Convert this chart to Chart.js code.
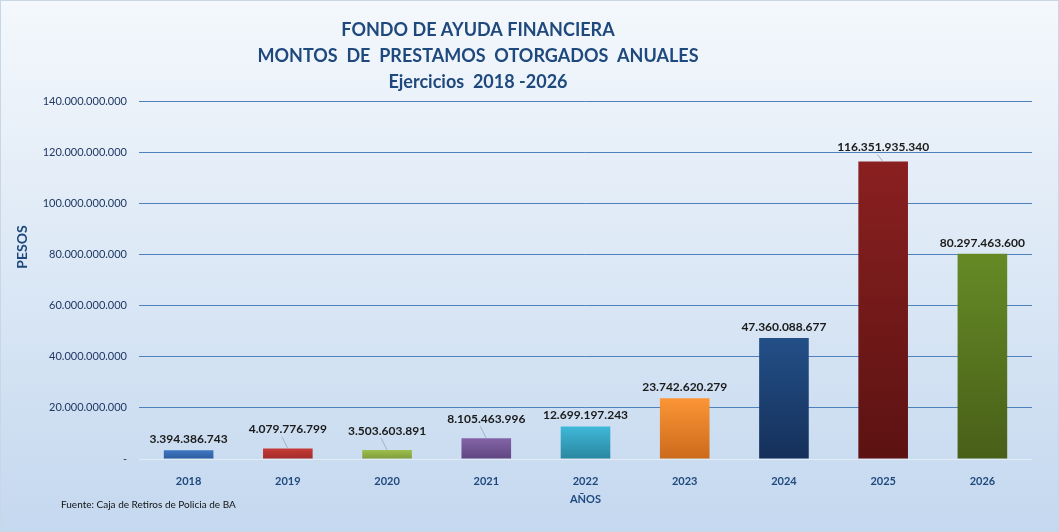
<!DOCTYPE html>
<html>
<head>
<meta charset="utf-8">
<script src="https://cdn.jsdelivr.net/npm/chart.js@4.4.1/dist/chart.umd.min.js"></script>
<style>
  html, body { margin: 0; padding: 0; background: #fff; }
  #wrap { width: 1059px; height: 532px; }
</style>
</head>
<body>
<div id="wrap"><canvas id="chart"></canvas></div>
<script>
// datos del grafico
const years = ['2018', '2019', '2020', '2021', '2022', '2023', '2024', '2025', '2026'];
const montos = [3394386743, 4079776799, 3503603891, 8105463996, 12699197243, 23742620279, 47360088677, 116351935340, 80297463600];
const titleLines = ['FONDO DE AYUDA FINANCIERA', 'MONTOS  DE  PRESTAMOS  OTORGADOS  ANUALES', 'Ejercicios  2018 -2026'];
const fuente = 'Fuente: Caja de Retiros de Policia de BA';

// colores de las barras (arriba / abajo del degradado)
const topColors = ['#3d76c2', '#c63b37', '#9dbf4c', '#8464a8', '#3fb8d9', '#fb9535', '#234f87', '#8a2020', '#668a26'];
const bottomColors = ['#2d5c9c', '#a22c2a', '#7f9c3a', '#5f4680', '#2a879f', '#cc6a1c', '#15305a', '#5c1212', '#485f18'];
// cuanto se elevan algunas etiquetas (con linea guia)
const labelRaise = [0, 8, 8, 8, 0, 0, 0, 3, 0];

const fmt = n => String(n).replace(/\B(?=(\d{3})+(?!\d))/g, '.');
const FONT = 'Lato, "Open Sans", sans-serif';

const bgPlugin = {
  id: 'bg',
  beforeDraw(chart) {
    const { ctx, width, height } = chart;
    const g = ctx.createLinearGradient(0, 0, 0, height);
    g.addColorStop(0, '#f4f8fc');
    g.addColorStop(1, '#c4d8ef');
    ctx.save();
    ctx.fillStyle = g;
    ctx.fillRect(0, 0, width, height);
    ctx.strokeStyle = '#c9d6e6';
    ctx.lineWidth = 1;
    ctx.strokeRect(0.5, 0.5, width - 1, height - 1);
    ctx.restore();
  },
  afterDraw(chart) {
    const ctx = chart.ctx;
    ctx.save();
    ctx.fillStyle = '#1f497d';
    ctx.font = 'bold 18px ' + FONT;
    ctx.textAlign = 'center';
    ctx.textBaseline = 'middle';
    titleLines.forEach((t, i) => ctx.fillText(t, 478, 30 + i * 26));
    // titulo del eje y
    ctx.save();
    ctx.translate(22, 247);
    ctx.rotate(-Math.PI / 2);
    ctx.font = 'bold 14px ' + FONT;
    ctx.fillText('PESOS', 0, 0);
    ctx.restore();
    ctx.fillStyle = '#111';
    ctx.font = '10px ' + FONT;
    ctx.textAlign = 'left';
    ctx.fillText(fuente, 61, 505);
    ctx.restore();
  }
};

const labelPlugin = {
  id: 'valueLabels',
  afterDatasetsDraw(chart) {
    const ctx = chart.ctx;
    const meta = chart.getDatasetMeta(0);
    ctx.save();
    ctx.font = 'bold 12px ' + FONT;
    ctx.textAlign = 'center';
    ctx.textBaseline = 'bottom';
    meta.data.forEach((bar, i) => {
      const ly = bar.y - 5 - labelRaise[i];
      if (labelRaise[i] > 0) {
        ctx.strokeStyle = '#9fb3c8';
        ctx.lineWidth = 1;
        ctx.beginPath();
        ctx.moveTo(bar.x - 6, ly + 1);
        ctx.lineTo(bar.x, bar.y);
        ctx.stroke();
      }
      ctx.fillStyle = '#1a1a1a';
      ctx.fillText(fmt(montos[i]), bar.x, ly);
    });
    ctx.restore();
  }
};

const ctx = document.getElementById('chart').getContext('2d');
const chart = new Chart(ctx, {
  type: 'bar',
  data: {
    labels: years,
    datasets: [{
      data: montos,
      barPercentage: 0.5,
      categoryPercentage: 1.0,
      backgroundColor: c => {
        const ch = c.chart;
        const i = c.dataIndex;
        if (!ch.chartArea || i === undefined) return topColors[i] || '#4f81bd';
        const y0 = ch.scales.y.getPixelForValue(montos[i]);
        const y1 = ch.scales.y.getPixelForValue(0);
        const g = ch.ctx.createLinearGradient(0, y0, 0, y1);
        g.addColorStop(0, topColors[i]);
        g.addColorStop(1, bottomColors[i]);
        return g;
      }
    }]
  },
  options: {
    responsive: true,
    maintainAspectRatio: false,
    devicePixelRatio: 1,
    animation: false,
    layout: { padding: { top: 101, right: 27, bottom: 26, left: 0 } },
    plugins: {
      legend: { display: false },
      tooltip: { enabled: false }
    },
    scales: {
      x: {
        grid: { display: false },
        border: { display: false },
        ticks: { color: '#1f497d', font: { family: FONT, size: 11, weight: 'bold' }, padding: 8 },
        title: { display: true, text: 'AÑOS', color: '#1f497d', font: { family: FONT, size: 11, weight: 'bold' }, padding: { top: 6, bottom: 0 } },
        afterFit: s => { s.height = 47; }
      },
      y: {
        min: 0,
        max: 140000000000,
        ticks: {
          stepSize: 20000000000,
          color: '#1f3864',
          font: { family: FONT, size: 11 },
          padding: 12,
          callback: v => v === 0 ? '-' : fmt(v)
        },
        grid: {
          drawTicks: false,
          color: c => c.tick && c.tick.value === 0 ? '#e3ebf5' : '#4f81bd',
          lineWidth: 1
        },
        border: { display: false },
        afterFit: s => { s.width = 139; }
      }
    }
  },
  plugins: [bgPlugin, labelPlugin]
});
</script>
</body>
</html>
